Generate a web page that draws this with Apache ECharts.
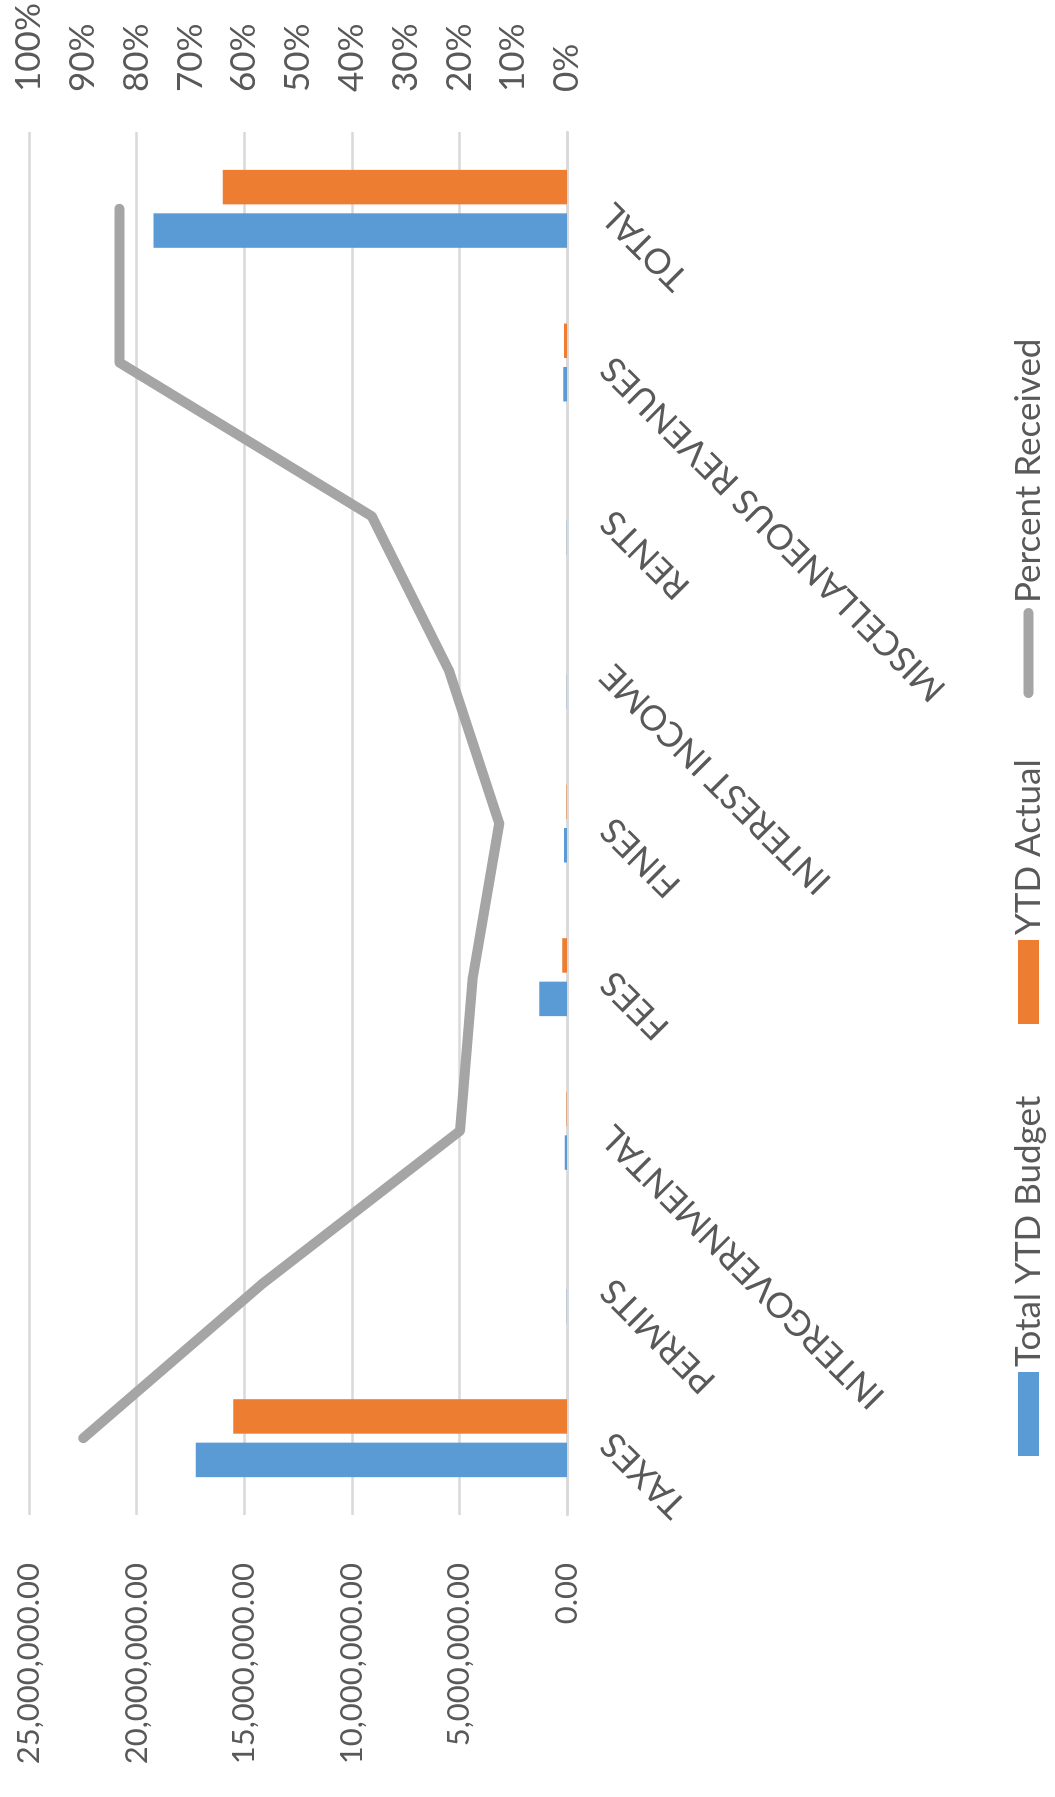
<!DOCTYPE html>
<html>
<head>
<meta charset="utf-8">
<script src="https://cdn.jsdelivr.net/npm/echarts@6/dist/echarts.min.js"></script>
<style>
html,body{margin:0;padding:0;width:1055px;height:1797px;overflow:hidden;background:#fff;}
#chart{position:absolute;left:0;top:0;width:1797px;height:1055px;transform-origin:0 0;transform:translate(0,1797px) rotate(-90deg);}
</style>
</head>
<body>
<div id="chart"></div>
<script>
const categories = ['TAXES','PERMITS','INTERGOVERNMENTAL','FEES','FINES','INTEREST INCOME','RENTS','MISCELLANEOUS REVENUES','TOTAL'];
const budget = [17250000, 10000, 110000, 1290000, 140000, 15000, 12000, 170000, 19220000];
const actual = [15510000, 5700, 22000, 225000, 18000, 3300, 4400, 141000, 16000000];
const percentReceived = [89.9, 56.8, 19.9, 17.5, 12.6, 22.0, 36.3, 83.2, 83.2];
const seriesNames = ['Total YTD Budget', 'YTD Actual', 'Percent Received'];

const FONT = 'Lato';
const TXT = '#595959';
const FS = 35;

const chart = echarts.init(document.getElementById('chart'), null, {renderer: 'canvas', width: 1797, height: 1055});
const legendBase = {
  orient: 'horizontal', top: 1011, padding: 0, selectedMode: false, itemGap: 0,
  textStyle: {color: TXT, fontFamily: FONT, fontSize: FS}
};
const option = {
  animation: false,
  backgroundColor: '#ffffff',
  grid: {left: 282, right: 132, top: 29, bottom: 488, containLabel: false, outerBoundsMode: 'none'},
  legend: [
    Object.assign({}, legendBase, {left: 341, icon: 'rect', data: [seriesNames[0]], itemWidth: 84, itemHeight: 21}),
    Object.assign({}, legendBase, {left: 773, icon: 'rect', data: [seriesNames[1]], itemWidth: 84, itemHeight: 21}),
    Object.assign({}, legendBase, {left: 1099, itemWidth: 90, itemHeight: 10,
      data: [{name: seriesNames[2], icon: 'path://M5,0 L85,0 A5,5 0 0 1 85,10 L5,10 A5,5 0 0 1 5,0 Z', itemStyle: {color: '#a5a5a5', borderWidth: 0}}]})
  ],
  xAxis: {
    type: 'category', data: categories,
    axisTick: {show: false},
    axisLine: {show: true, lineStyle: {color: '#d9d9d9', width: 2.5}},
    axisLabel: {rotate: 45, margin: 40, interval: 0, color: TXT, fontFamily: FONT, fontSize: FS}
  },
  yAxis: [
    {
      type: 'value', min: 0, max: 25000000, interval: 5000000,
      axisLine: {show: false}, axisTick: {show: false},
      splitLine: {show: true, lineStyle: {color: '#d9d9d9', width: 2.5}},
      axisLabel: {margin: 48, color: TXT, fontFamily: FONT, fontSize: 31,
        formatter: v => v.toLocaleString('en-US', {minimumFractionDigits: 2, maximumFractionDigits: 2})}
    },
    {
      type: 'value', min: 0, max: 100, interval: 10, position: 'right',
      axisLine: {show: false}, axisTick: {show: false}, splitLine: {show: false},
      axisLabel: {margin: 40, color: TXT, fontFamily: FONT, fontSize: FS, formatter: '{value}%'}
    }
  ],
  series: [
    {name: seriesNames[0], type: 'bar', data: budget, barWidth: 34.5, barGap: '26%', itemStyle: {color: '#5b9bd5'}},
    {name: seriesNames[1], type: 'bar', data: actual, barWidth: 34.5, barGap: '26%', itemStyle: {color: '#ed7d31'}},
    {name: seriesNames[2], type: 'line', yAxisIndex: 1, data: percentReceived, symbol: 'none', showSymbol: false,
      color: '#a5a5a5', itemStyle: {color: '#a5a5a5'},
      lineStyle: {color: '#a5a5a5', width: 10, cap: 'round', join: 'round'}, z: 3}
  ]
};
chart.setOption(option);
</script>
</body>
</html>
